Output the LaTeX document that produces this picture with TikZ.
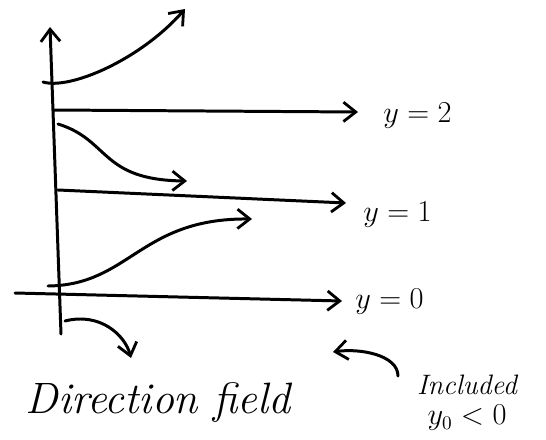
\documentclass[tikz,border=0pt]{standalone}
\usepackage{tikz}
\usetikzlibrary{arrows.meta,positioning}

\tikzset{
  pen/.style={line width=1.7pt, line cap=round, line join=round},
  penarrow/.style={pen, -{Straight Barb[length=7pt,width=11pt,line width=1.6pt]}},
  eqlab/.style={font=\fontsize{17}{20}\selectfont, inner sep=0pt, anchor=west},
  hand/.style={font=\fontsize{25}{28}\selectfont\itshape, inner sep=0pt},
  note/.style={font=\fontsize{16}{17}\selectfont\itshape, inner sep=0pt, align=center},
}

\begin{document}
\begin{tikzpicture}[x=0.02cm,y=-0.02cm]
\useasboundingbox (0,0) rectangle (546,439);

% Vertical axis
\coordinate (axbot) at (61,334);
\coordinate (axtop) at (50,27);
\draw[penarrow] (axbot) -- (axtop);

% Equilibrium solutions
\coordinate (twoL) at (53,110);
\coordinate (twoR) at (358,112);
\draw[penarrow] (twoL) -- (twoR);
\node[eqlab] (ytwo) at (383,116) {$y=2$};

\coordinate (oneL) at (58,190);
\coordinate (oneR) at (346,203);
\draw[penarrow] (oneL) -- (oneR);
\node[eqlab] (yone) at (363,215) {$y=1$};

\coordinate (zeroL) at (15,293);
\coordinate (zeroR) at (342,301);
\draw[penarrow] (zeroL) -- (zeroR);
\node[eqlab] (yzero) at (355,302) {$y=0$};

% Solution curves
\draw[penarrow] (43,82) .. controls (70,90) and (140,60) .. (185,9);
\draw[penarrow] (58,124) .. controls (110,140) and (100,180) .. (187,181);
\draw[penarrow] (48,286) .. controls (130,285) and (140,218) .. (252,219);
\draw[penarrow] (65,321) .. controls (100,312) and (125,335) .. (131,358);

% Labels
\node[hand] (title) at (158,403) {Direction field};
\node[note] (incl) at (467,403) {Included\\$y_0<0$};
\coordinate (inclpt) at (398,376);
\coordinate (inclhd) at (333,352);
\draw[penarrow] (inclpt) .. controls (398,355) and (360,348) .. (inclhd);

\end{tikzpicture}
\end{document}
